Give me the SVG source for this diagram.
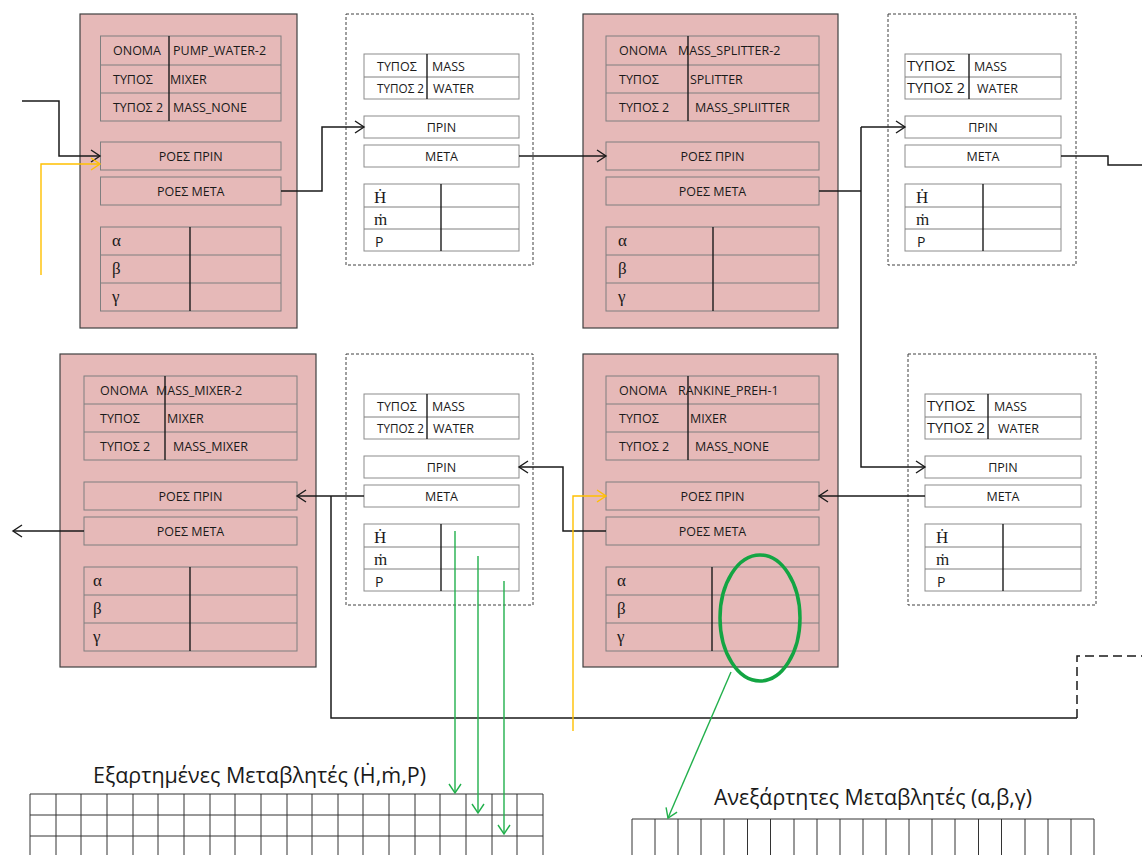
<svg xmlns="http://www.w3.org/2000/svg" width="1142" height="855" viewBox="0 0 1142 855">
<style>
.pk{fill:#e6b9b8;stroke:#404040;stroke-width:1.2}
.cell{fill:none;stroke:#7f7f7f;stroke-width:1}
.wcell{fill:#fff;stroke:#8c8c8c;stroke-width:1}
.dv{stroke:#1a1a1a;stroke-width:1.4}
.hl{stroke:#7f7f7f;stroke-width:1}
.dash{fill:#fff;stroke:#404040;stroke-width:1;stroke-dasharray:3 2}
.t{font-family:"Open Sans","Liberation Sans",sans-serif;font-size:12.5px;fill:#1a1a1a}
.tb{font-family:"Open Sans","Liberation Sans",sans-serif;font-size:14.5px;fill:#1a1a1a}
.p{font-family:"Open Sans","Liberation Sans",sans-serif;font-size:14px;fill:#1a1a1a}
.c{text-anchor:middle}
.s{font-family:"Liberation Serif","DejaVu Serif",serif;font-size:17px;fill:#1a1a1a}
.ttl{font-family:"Open Sans","Liberation Sans",sans-serif;font-size:22px;fill:#1a1a1a}
.ln{fill:none;stroke:#1a1a1a;stroke-width:1.5}
.yl{fill:none;stroke:#ffc000;stroke-width:1.4}
.gr{fill:none;stroke:#22b04c;stroke-width:1.4}
.gridl{fill:none;stroke:#333;stroke-width:1}
</style>
<defs>
<marker id="ab" markerWidth="12" markerHeight="14" refX="10" refY="7" orient="auto" markerUnits="userSpaceOnUse"><path d="M1,1 L10,7 L1,13" fill="none" stroke="#1a1a1a" stroke-width="1.4"/></marker>
<marker id="ay" markerWidth="12" markerHeight="14" refX="10" refY="7" orient="auto" markerUnits="userSpaceOnUse"><path d="M1,1 L10,7 L1,13" fill="none" stroke="#ffc000" stroke-width="1.4"/></marker>
<marker id="ag" markerWidth="12" markerHeight="14" refX="10" refY="7" orient="auto" markerUnits="userSpaceOnUse"><path d="M1,1 L10,7 L1,13" fill="none" stroke="#22b04c" stroke-width="1.4"/></marker>
</defs>
<rect width="1142" height="855" fill="#fff"/>

<!-- Node 1 -->
<g id="node-pump-water-2" transform="translate(80,14)">
<rect class="pk" x="0" y="0" width="217" height="314"/>
<rect class="cell" x="20.5" y="22" width="180.5" height="85"/>
<path class="hl" d="M20.5,51H201M20.5,79H201"/>
<path class="dv" d="M89,22V107"/>
<text class="t" x="33" y="41">ΟΝΟΜΑ</text><text class="t" x="93" y="41">PUMP_WATER-2</text>
<text class="t" x="33" y="70">ΤΥΠΟΣ</text><text class="t" x="90" y="70">MIXER</text>
<text class="t" x="33" y="98" textLength="50" lengthAdjust="spacingAndGlyphs">ΤΥΠΟΣ 2</text><text class="t" x="93" y="98">MASS_NONE</text>
<rect class="cell" x="20.5" y="128" width="180.5" height="28"/>
<text class="t c" x="110.75" y="147">ΡΟΕΣ ΠΡΙΝ</text>
<rect class="cell" x="20.5" y="163" width="180.5" height="28"/>
<text class="t c" x="110.75" y="182">ΡΟΕΣ ΜΕΤΑ</text>
<rect class="cell" x="20.5" y="213" width="180.5" height="84"/>
<path class="hl" d="M20.5,241H201M20.5,269H201"/>
<path class="dv" d="M110,213V297"/>
<text class="s" x="32" y="232">α</text><text class="s" x="32" y="260">β</text><text class="s" x="32" y="288">γ</text>
</g>

<!-- Node 3 -->
<g id="node-mass-splitter-2" transform="translate(583,14)">
<rect class="pk" x="0" y="0" width="255" height="314"/>
<rect class="cell" x="23" y="22" width="213" height="85"/>
<path class="hl" d="M23,51H236M23,79H236"/>
<path class="dv" d="M105,22V107"/>
<text class="t" x="36" y="41">ΟΝΟΜΑ</text><text class="t" x="95" y="41">MASS_SPLITTER-2</text>
<text class="t" x="36" y="70">ΤΥΠΟΣ</text><text class="t" x="107" y="70">SPLITTER</text>
<text class="t" x="36" y="98">ΤΥΠΟΣ 2</text><text class="t" x="112" y="98">MASS_SPLIITTER</text>
<rect class="cell" x="23" y="128" width="213" height="28"/>
<text class="t c" x="129.5" y="147">ΡΟΕΣ ΠΡΙΝ</text>
<rect class="cell" x="23" y="163" width="213" height="28"/>
<text class="t c" x="129.5" y="182">ΡΟΕΣ ΜΕΤΑ</text>
<rect class="cell" x="23" y="213" width="213" height="84"/>
<path class="hl" d="M23,241H236M23,269H236"/>
<path class="dv" d="M130,213V297"/>
<text class="s" x="35" y="232">α</text><text class="s" x="35" y="260">β</text><text class="s" x="35" y="288">γ</text>
</g>

<!-- Node 5 -->
<g id="node-mass-mixer-2" transform="translate(60,354)">
<rect class="pk" x="0" y="0" width="256" height="313"/>
<rect class="cell" x="24" y="22" width="213" height="84"/>
<path class="hl" d="M24,50H237M24,78H237"/>
<path class="dv" d="M105,22V106"/>
<text class="t" x="40" y="41">ΟΝΟΜΑ</text><text class="t" x="96" y="41">MASS_MIXER-2</text>
<text class="t" x="40" y="69">ΤΥΠΟΣ</text><text class="t" x="107" y="69">MIXER</text>
<text class="t" x="40" y="97">ΤΥΠΟΣ 2</text><text class="t" x="113" y="97">MASS_MIXER</text>
<rect class="cell" x="24" y="128" width="213" height="28"/>
<text class="t c" x="130.5" y="147">ΡΟΕΣ ΠΡΙΝ</text>
<rect class="cell" x="24" y="163" width="213" height="28"/>
<text class="t c" x="130.5" y="182">ΡΟΕΣ ΜΕΤΑ</text>
<rect class="cell" x="24" y="213" width="213" height="84"/>
<path class="hl" d="M24,241H237M24,269H237"/>
<path class="dv" d="M130,213V297"/>
<text class="s" x="33" y="232">α</text><text class="s" x="33" y="260">β</text><text class="s" x="33" y="288">γ</text>
</g>

<!-- Node 7 -->
<g id="node-rankine-preh-1" transform="translate(583,354)">
<rect class="pk" x="0" y="0" width="255" height="313"/>
<rect class="cell" x="23" y="22" width="213" height="84"/>
<path class="hl" d="M23,50H236M23,78H236"/>
<path class="dv" d="M105,22V106"/>
<text class="t" x="36" y="41">ΟΝΟΜΑ</text><text class="t" x="95" y="41">RANKINE_PREH-1</text>
<text class="t" x="36" y="69">ΤΥΠΟΣ</text><text class="t" x="107" y="69">MIXER</text>
<text class="t" x="36" y="97">ΤΥΠΟΣ 2</text><text class="t" x="112" y="97">MASS_NONE</text>
<rect class="cell" x="23" y="128" width="213" height="28"/>
<text class="t c" x="129.5" y="147">ΡΟΕΣ ΠΡΙΝ</text>
<rect class="cell" x="23" y="163" width="213" height="28"/>
<text class="t c" x="129.5" y="182">ΡΟΕΣ ΜΕΤΑ</text>
<rect class="cell" x="23" y="213" width="213" height="84"/>
<path class="hl" d="M23,241H236M23,269H236"/>
<path class="dv" d="M129,213V297"/>
<text class="s" x="34" y="232">α</text><text class="s" x="34" y="260">β</text><text class="s" x="34" y="288">γ</text>
</g>

<!-- Stream box 2 -->
<g id="stream-1" transform="translate(346,14)">
<rect class="dash" x="0" y="0" width="187" height="251"/>
<rect class="wcell" x="18" y="40" width="155" height="45"/>
<path class="hl" d="M18,63H173"/>
<path class="dv" d="M81,40V85"/>
<text class="t" x="31" y="57">ΤΥΠΟΣ</text><text class="t" x="86" y="57">MASS</text>
<text class="t" x="31" y="79" textLength="47" lengthAdjust="spacingAndGlyphs">ΤΥΠΟΣ 2</text><text class="t" x="87" y="79">WATER</text>
<rect class="wcell" x="18" y="102" width="155" height="22"/>
<text class="t c" x="95.5" y="118">ΠΡΙΝ</text>
<rect class="wcell" x="18" y="131" width="155" height="22"/>
<text class="t c" x="95.5" y="147">ΜΕΤΑ</text>
<rect class="wcell" x="18" y="170" width="155" height="67"/>
<path class="hl" d="M18,193H173M18,215H173"/>
<path class="dv" d="M95,170V237"/>
<text class="s" x="28" y="189">Ḣ</text><text class="s" x="28" y="211">ṁ</text><text class="p" x="29" y="233">P</text>
</g>

<!-- Stream box 4 -->
<g id="stream-2" transform="translate(888,14)">
<rect class="dash" x="0" y="0" width="188" height="251"/>
<rect class="wcell" x="17" y="40" width="156" height="45"/>
<path class="hl" d="M17,63H173"/>
<path class="dv" d="M81,40V85"/>
<text class="tb" x="19" y="57" textLength="48" lengthAdjust="spacingAndGlyphs">ΤΥΠΟΣ</text><text class="t" x="86" y="57">MASS</text>
<text class="tb" x="19" y="79" textLength="58" lengthAdjust="spacingAndGlyphs">ΤΥΠΟΣ 2</text><text class="t" x="89" y="79">WATER</text>
<rect class="wcell" x="17" y="102" width="156" height="22"/>
<text class="t c" x="95" y="118">ΠΡΙΝ</text>
<rect class="wcell" x="17" y="131" width="156" height="22"/>
<text class="t c" x="95" y="147">ΜΕΤΑ</text>
<rect class="wcell" x="17" y="170" width="156" height="67"/>
<path class="hl" d="M17,193H173M17,215H173"/>
<path class="dv" d="M95,170V237"/>
<text class="s" x="28" y="189">Ḣ</text><text class="s" x="28" y="211">ṁ</text><text class="p" x="29" y="233">P</text>
</g>

<!-- Stream box 6 -->
<g id="stream-3" transform="translate(346,354)">
<rect class="dash" x="0" y="0" width="187" height="251"/>
<rect class="wcell" x="18" y="40" width="155" height="45"/>
<path class="hl" d="M18,63H173"/>
<path class="dv" d="M81,40V85"/>
<text class="t" x="31" y="57">ΤΥΠΟΣ</text><text class="t" x="86" y="57">MASS</text>
<text class="t" x="31" y="79" textLength="47" lengthAdjust="spacingAndGlyphs">ΤΥΠΟΣ 2</text><text class="t" x="87" y="79">WATER</text>
<rect class="wcell" x="18" y="102" width="155" height="22"/>
<text class="t c" x="95.5" y="118">ΠΡΙΝ</text>
<rect class="wcell" x="18" y="131" width="155" height="22"/>
<text class="t c" x="95.5" y="147">ΜΕΤΑ</text>
<rect class="wcell" x="18" y="170" width="155" height="67"/>
<path class="hl" d="M18,193H173M18,215H173"/>
<path class="dv" d="M95,170V237"/>
<text class="s" x="28" y="189">Ḣ</text><text class="s" x="28" y="211">ṁ</text><text class="p" x="29" y="233">P</text>
</g>

<!-- Stream box 8 -->
<g id="stream-4" transform="translate(908,354)">
<rect class="dash" x="0" y="0" width="188" height="251"/>
<rect class="wcell" x="17" y="40" width="156" height="45"/>
<path class="hl" d="M17,63H173"/>
<path class="dv" d="M80,40V85"/>
<text class="tb" x="19" y="57" textLength="48" lengthAdjust="spacingAndGlyphs">ΤΥΠΟΣ</text><text class="t" x="86" y="57">MASS</text>
<text class="tb" x="19" y="79" textLength="58" lengthAdjust="spacingAndGlyphs">ΤΥΠΟΣ 2</text><text class="t" x="90" y="79">WATER</text>
<rect class="wcell" x="17" y="102" width="156" height="22"/>
<text class="t c" x="95" y="118">ΠΡΙΝ</text>
<rect class="wcell" x="17" y="131" width="156" height="22"/>
<text class="t c" x="95" y="147">ΜΕΤΑ</text>
<rect class="wcell" x="17" y="170" width="156" height="67"/>
<path class="hl" d="M17,193H173M17,215H173"/>
<path class="dv" d="M95,170V237"/>
<text class="s" x="28" y="189">Ḣ</text><text class="s" x="28" y="211">ṁ</text><text class="p" x="29" y="233">P</text>
</g>

<!-- Dependent variables grid -->
<g id="dependent-vars">
<text class="ttl" x="93" y="783" textLength="333" lengthAdjust="spacingAndGlyphs">Εξαρτημένες Μεταβλητές (Ḣ,ṁ,P)</text>
<path class="gridl" d="M30,794H543M30,815H543M30,836H543M30,794V856M56,794V856M81,794V856M107,794V856M133,794V856M158,794V856M184,794V856M210,794V856M235,794V856M261,794V856M287,794V856M312,794V856M338,794V856M363,794V856M389,794V856M415,794V856M440,794V856M466,794V856M492,794V856M517,794V856M543,794V856"/>
</g>

<!-- Independent variables grid -->
<g id="independent-vars">
<text class="ttl" x="714" y="805" textLength="318" lengthAdjust="spacingAndGlyphs">Ανεξάρτητες Μεταβλητές (α,β,γ)</text>
<path class="gridl" stroke="#555" d="M632,819H1094M632,819V856M655,819V856M678,819V856M701,819V856M724,819V856M747.5,819V856M770.5,819V856M794,819V856M817,819V856M840,819V856M863,819V856M886,819V856M909,819V856M932,819V856M955,819V856M978.5,819V856M1001.5,819V856M1025,819V856M1048,819V856M1071,819V856M1094,819V856"/>
</g>

<!-- Connectors -->
<g id="connectors">
<path class="ln" d="M22,101H59V156H100" marker-end="url(#ab)"/>
<path class="yl" d="M41,275V164H100" marker-end="url(#ay)"/>
<path class="ln" d="M281,191H322V127H364" marker-end="url(#ab)"/>
<path class="ln" d="M519,156H606" marker-end="url(#ab)"/>
<path class="ln" d="M819,191H861"/>
<path class="ln" d="M861,127V467H925" marker-end="url(#ab)"/>
<path class="ln" d="M861,127H905" marker-end="url(#ab)"/>
<path class="ln" d="M1061,156H1108V165H1142"/>
<path class="ln" d="M925,496H819" marker-end="url(#ab)"/>
<path class="ln" d="M606,531H563V467H519" marker-end="url(#ab)"/>
<path class="ln" d="M364,496H297" marker-end="url(#ab)"/>
<path class="ln" d="M331,496V718H1077"/>
<path class="ln" d="M1077,718V656H1142" stroke-dasharray="9 5"/>
<path class="ln" d="M84,531H13" marker-end="url(#ab)"/>
<path class="yl" d="M573,731V496H606" marker-end="url(#ay)"/>
<path class="gr" d="M455,531V793" marker-end="url(#ag)"/>
<path class="gr" d="M478,556V813" marker-end="url(#ag)"/>
<path class="gr" d="M504,581V834" marker-end="url(#ag)"/>
<ellipse cx="760" cy="618" rx="40" ry="63" fill="none" stroke="#13a543" stroke-width="3.5"/>
<path class="gr" d="M731,672L668,818" marker-end="url(#ag)"/>
</g>
</svg>
